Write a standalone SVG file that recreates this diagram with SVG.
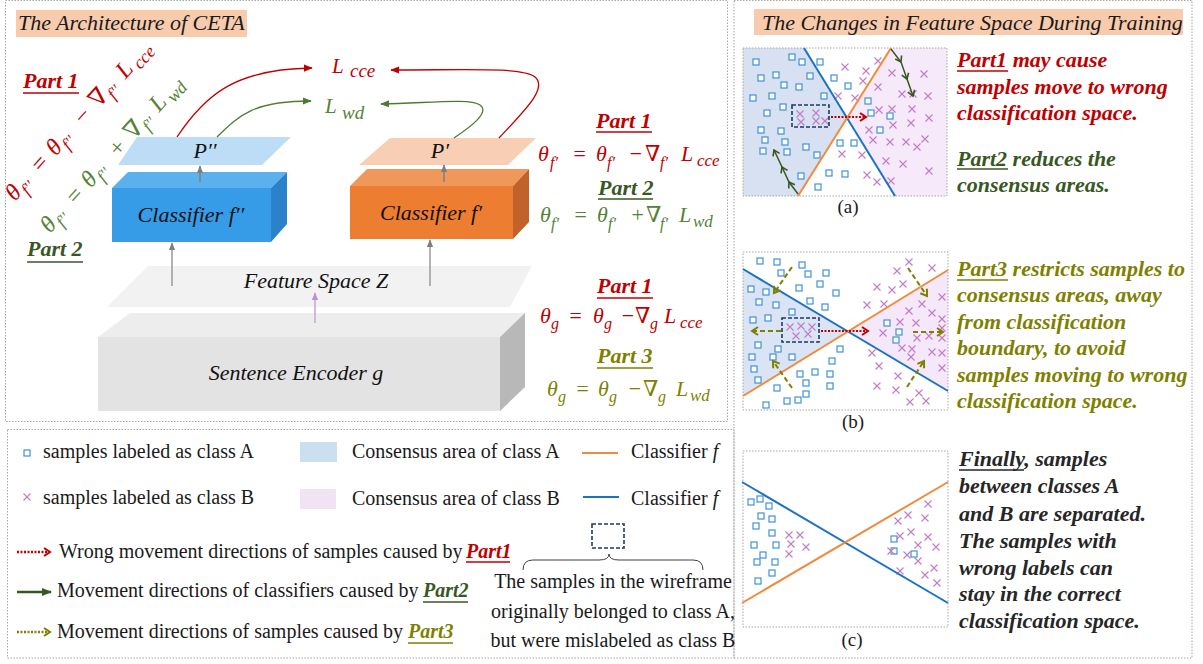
<svg xmlns="http://www.w3.org/2000/svg" width="1203" height="664" viewBox="0 0 1203 664">
<style>
text{font-family:"Liberation Serif","Times New Roman","DejaVu Serif",serif;}
.it{font-style:italic;}
.bi{font-style:italic;font-weight:bold;}
.ttl{font-size:22px;font-style:italic;fill:#1a1a1a;}
.lbl{font-size:22px;font-style:italic;fill:#111;}
.fm{font-size:22px;font-style:italic;}
.sb{font-size:16px;}
.part{font-size:22px;font-style:italic;font-weight:bold;}
.para{font-size:22px;font-style:italic;font-weight:bold;}
.leg{font-size:20px;fill:#1a1a1a;}
.cap{font-size:19px;fill:#1a1a1a;}
.red{fill:#C00000;}
.grn{fill:#548235;}
.dgrn{fill:#385723;}
.olv{fill:#7F7F00;}
.border{fill:none;stroke:#A6A6A6;stroke-width:1;stroke-dasharray:1.5 1.5;}
.ul{stroke-width:1.6;}
</style>
<defs>
<rect id="sq" x="-3" y="-3" width="6" height="6" fill="#fff" stroke="#3F92D8" stroke-width="1.2"/>
<path id="cx" d="M-3.5,-3.5L3.5,3.5M-3.5,3.5L3.5,-3.5" stroke="#C27BC6" stroke-width="1.1" fill="none"/>
<marker id="ahRed" viewBox="0 0 10 10" refX="9" refY="5" markerWidth="9" markerHeight="9" markerUnits="userSpaceOnUse" orient="auto"><path d="M0,1L10,5L0,9z" fill="#C00000"/></marker>
<marker id="ahGrn" viewBox="0 0 10 10" refX="9" refY="5" markerWidth="9" markerHeight="9" markerUnits="userSpaceOnUse" orient="auto"><path d="M0,1L10,5L0,9z" fill="#4E7A33"/></marker>
<marker id="ahGray" viewBox="0 0 10 10" refX="9" refY="5" markerWidth="8" markerHeight="8" markerUnits="userSpaceOnUse" orient="auto"><path d="M0,1L10,5L0,9z" fill="#7F7F7F"/></marker>
<marker id="ahPur" viewBox="0 0 10 10" refX="9" refY="5" markerWidth="8" markerHeight="8" markerUnits="userSpaceOnUse" orient="auto"><path d="M0,1L10,5L0,9z" fill="#B594D6"/></marker>
<marker id="ahDg" viewBox="0 0 10 10" refX="9" refY="5" markerWidth="10" markerHeight="10" markerUnits="userSpaceOnUse" orient="auto"><path d="M0,1L10,5L0,9z" fill="#385723"/></marker>
<marker id="chRed" viewBox="0 0 10 10" refX="8" refY="5" markerWidth="10" markerHeight="10" markerUnits="userSpaceOnUse" orient="auto"><path d="M2,1L8,5L2,9" fill="none" stroke="#C00000" stroke-width="2"/></marker>
<marker id="chOlv" viewBox="0 0 10 10" refX="8" refY="5" markerWidth="10" markerHeight="10" markerUnits="userSpaceOnUse" orient="auto"><path d="M2,1L8,5L2,9" fill="none" stroke="#7F7F00" stroke-width="2"/></marker>
<marker id="chGrn" viewBox="0 0 10 10" refX="8" refY="5" markerWidth="9" markerHeight="9" markerUnits="userSpaceOnUse" orient="auto"><path d="M2,1L8,5L2,9" fill="none" stroke="#385723" stroke-width="1.8"/></marker>
</defs>

<rect width="1203" height="664" fill="#fff"/>

<!-- panel borders -->
<rect class="border" x="5.5" y="0.5" width="722" height="421"/>
<rect class="border" x="7.5" y="429.5" width="726.5" height="228.5"/>
<rect class="border" x="734" y="0.5" width="458" height="657.5"/>

<!-- titles -->
<g id="title-left">
<rect x="16" y="10" width="231" height="27" fill="#F8CBAD"/>
<text class="ttl" x="18" y="30">The Architecture of CETA</text>
</g>
<g id="title-right">
<rect x="754" y="9" width="429" height="26" fill="#F8CBAD"/>
<text class="ttl" x="762" y="29.5">The Changes in Feature Space During Training</text>
</g>

<!-- encoder -->
<g id="encoder">
<polygon points="98,337 130,313 525,313 500,337" fill="#EDEDED"/>
<polygon points="500,337 525,313 525,387 500,411" fill="#B8B8B8"/>
<rect x="98" y="337" width="402" height="74" fill="#E3E3E3"/>
<text class="lbl" x="296" y="380" text-anchor="middle">Sentence Encoder g</text>
</g>

<g id="feature-space">
<polygon points="148,266 532,266 510,307 107,307" fill="#F2F2F2"/>
<text class="lbl" x="316" y="288" text-anchor="middle">Feature Space Z</text>
</g>

<g id="classifier-f2">
<polygon points="112,188 128,172 287,172 271,188" fill="#5BB0EE"/>
<polygon points="271,188 287,172 287,224 271,242" fill="#2B82C9"/>
<rect x="112" y="188" width="159" height="54" fill="#379CE8"/>
<text class="lbl" x="191" y="222" text-anchor="middle">Classifier f′′</text>
</g>

<g id="classifier-f1">
<polygon points="350,186 367,169 529,169 513,186" fill="#F0975A"/>
<polygon points="513,186 529,169 529,222 513,239" fill="#C0622A"/>
<rect x="350" y="186" width="163" height="53" fill="#ED7D31"/>
<text class="lbl" x="431" y="220" text-anchor="middle">Classifier f′</text>
</g>

<g id="p2">
<polygon points="137,137 291,137 262,165 118,165" fill="#BDDDF6"/>
<text class="lbl" x="205" y="158" text-anchor="middle">P′′</text>
</g>
<g id="p1">
<polygon points="390,138 536,138 508,165 359,165" fill="#F8CFB4"/>
<text class="lbl" x="440" y="158" text-anchor="middle">P′</text>
</g>

<g id="loss-cce">
<text class="red it" x="332" y="73" font-size="21">L</text>
<text class="red it" x="350" y="77" font-size="19">cce</text>
</g>
<g id="loss-wd">
<text class="grn it" x="325" y="113" font-size="21">L</text>
<text class="grn it" x="342" y="119" font-size="19">wd</text>
</g>

<!-- connectors -->
<g id="connectors" fill="none">
<path d="M177,137 C205,95 235,69 312,68" stroke="#C00000" stroke-width="1.3" marker-end="url(#ahRed)"/>
<path d="M499,138 C525,110 548,88 535,77 C522,67 470,70 391,70" stroke="#C00000" stroke-width="1.3" marker-end="url(#ahRed)"/>
<path d="M217,137 C240,114 255,101 311,101" stroke="#4E7A33" stroke-width="1.3" marker-end="url(#ahGrn)"/>
<path d="M454,138 C472,126 490,112 480,105 C470,98 430,103 381,104" stroke="#4E7A33" stroke-width="1.3" marker-end="url(#ahGrn)"/>
<line x1="200" y1="182" x2="200" y2="166" stroke="#7F7F7F" stroke-width="1.5" marker-end="url(#ahGray)"/>
<line x1="444" y1="182" x2="444" y2="165" stroke="#7F7F7F" stroke-width="1.5" marker-end="url(#ahGray)"/>
<line x1="172" y1="286" x2="172" y2="243" stroke="#9A9A9A" stroke-width="1.5" marker-end="url(#ahGray)"/>
<line x1="430" y1="286" x2="430" y2="240" stroke="#9A9A9A" stroke-width="1.5" marker-end="url(#ahGray)"/>
<line x1="315" y1="323" x2="315" y2="293" stroke="#C3A5DC" stroke-width="1.5" marker-end="url(#ahPur)"/>
</g>

<!-- left rotated formulas -->
<g id="left-formulas">
<text class="part red" x="23" y="88">Part 1</text>
<line class="ul" x1="23" y1="93" x2="79" y2="93" stroke="#C00000"/>
<text class="part dgrn" x="27" y="256">Part 2</text>
<line class="ul" x1="27" y1="262" x2="83" y2="262" stroke="#385723"/>
<g transform="translate(15,202) rotate(-48)">
<text class="red it" font-size="24"><tspan x="0" y="0">θ</tspan><tspan font-size="17" x="13" y="6">f′′</tspan><tspan x="37" y="0">=</tspan><tspan x="61" y="0">θ</tspan><tspan font-size="17" x="74" y="6">f′′</tspan><tspan x="101" y="0">−</tspan><tspan x="125" y="0">∇</tspan><tspan font-size="17" x="142" y="6">f′′</tspan><tspan x="165" y="0">L</tspan><tspan font-size="18" x="182" y="5">cce</tspan></text>
</g>
<g transform="translate(50,234) rotate(-48)">
<text class="grn it" font-size="24"><tspan x="0" y="0">θ</tspan><tspan font-size="17" x="13" y="6">f′′</tspan><tspan x="37" y="0">=</tspan><tspan x="61" y="0">θ</tspan><tspan font-size="17" x="74" y="6">f′′</tspan><tspan x="101" y="0">+</tspan><tspan x="125" y="0">∇</tspan><tspan font-size="17" x="142" y="6">f′′</tspan><tspan x="163" y="0">L</tspan><tspan font-size="18" x="180" y="5">wd</tspan></text>
</g>
</g>

<!-- right formulas -->
<g id="right-formulas">
<text class="part red" x="596" y="128">Part 1</text>
<line class="ul" x1="596" y1="132" x2="652" y2="132" stroke="#C00000"/>
<text class="fm red"><tspan x="538" y="161">θ</tspan><tspan class="sb" x="550" y="168">f′</tspan><tspan x="572" y="161">=</tspan><tspan x="596" y="161">θ</tspan><tspan class="sb" x="607" y="168">f′</tspan><tspan x="628" y="161">−</tspan><tspan x="645" y="161">∇</tspan><tspan class="sb" x="660" y="168">f′</tspan><tspan x="681" y="161">L</tspan><tspan font-size="17" x="697" y="166">cce</tspan></text>
<text class="part dgrn" x="598" y="195">Part 2</text>
<line class="ul" x1="598" y1="199" x2="653" y2="199" stroke="#385723"/>
<text class="fm grn"><tspan x="540" y="222">θ</tspan><tspan class="sb" x="551" y="229">f′</tspan><tspan x="573" y="222">=</tspan><tspan x="597" y="222">θ</tspan><tspan class="sb" x="608" y="229">f′</tspan><tspan x="630" y="222">+</tspan><tspan x="646" y="222">∇</tspan><tspan class="sb" x="660" y="229">f′</tspan><tspan x="679" y="222">L</tspan><tspan font-size="17" x="693" y="227">wd</tspan></text>
<text class="part red" x="597" y="293">Part 1</text>
<line class="ul" x1="597" y1="298" x2="653" y2="298" stroke="#C00000"/>
<text class="fm red"><tspan x="540" y="323">θ</tspan><tspan class="sb" x="551" y="329">g</tspan><tspan x="568" y="323">=</tspan><tspan x="593" y="323">θ</tspan><tspan class="sb" x="604" y="329">g</tspan><tspan x="620" y="323">−</tspan><tspan x="635" y="323">∇</tspan><tspan class="sb" x="650" y="329">g</tspan><tspan x="664" y="323">L</tspan><tspan font-size="17" x="680" y="328">cce</tspan></text>
<text class="part olv" x="597" y="363">Part 3</text>
<line class="ul" x1="597" y1="368" x2="653" y2="368" stroke="#7F7F00"/>
<text class="fm olv"><tspan x="547" y="396">θ</tspan><tspan class="sb" x="558" y="402">g</tspan><tspan x="575" y="396">=</tspan><tspan x="598" y="396">θ</tspan><tspan class="sb" x="609" y="402">g</tspan><tspan x="627" y="396">−</tspan><tspan x="643" y="396">∇</tspan><tspan class="sb" x="658" y="402">g</tspan><tspan x="676" y="396">L</tspan><tspan font-size="17" x="690" y="401">wd</tspan></text>
</g>

<!-- panel (a) -->
<g id="panel-a">
<polygon points="743,48 804,48 847,118 798,196 743,196" fill="#D7E1F1"/>
<polygon points="891,48 947,48 947,196 895,196 847,118" fill="#F5E9FA"/>
<rect class="border" x="743" y="48" width="204" height="148"/>
<g>
<use href="#sq" x="756" y="62"/><use href="#sq" x="792" y="57"/><use href="#sq" x="802" y="62"/><use href="#sq" x="820" y="62"/><use href="#sq" x="761" y="78"/><use href="#sq" x="776" y="75"/><use href="#sq" x="810" y="76"/><use href="#sq" x="784" y="85"/><use href="#sq" x="799" y="87"/><use href="#sq" x="834" y="78"/><use href="#sq" x="848" y="86"/><use href="#sq" x="753" y="98"/><use href="#sq" x="772" y="96"/><use href="#sq" x="824" y="96"/><use href="#sq" x="783" y="107"/><use href="#sq" x="767" y="113"/><use href="#sq" x="868" y="101"/><use href="#sq" x="871" y="113"/><use href="#sq" x="890" y="116"/><use href="#sq" x="761" y="130"/><use href="#sq" x="781" y="131"/><use href="#sq" x="765" y="140"/><use href="#sq" x="785" y="142"/><use href="#sq" x="880" y="130"/><use href="#sq" x="763" y="151"/><use href="#sq" x="787" y="152"/><use href="#sq" x="806" y="147"/><use href="#sq" x="817" y="155"/><use href="#sq" x="840" y="143"/><use href="#sq" x="854" y="143"/><use href="#sq" x="801" y="176"/><use href="#sq" x="829" y="173"/><use href="#sq" x="845" y="174"/><use href="#sq" x="818" y="187"/>
<use href="#cx" x="845" y="67"/><use href="#cx" x="866" y="71"/><use href="#cx" x="878" y="61"/><use href="#cx" x="892" y="73"/><use href="#cx" x="863" y="81"/><use href="#cx" x="924" y="74"/><use href="#cx" x="838" y="96"/><use href="#cx" x="855" y="98"/><use href="#cx" x="878" y="87"/><use href="#cx" x="902" y="94"/><use href="#cx" x="913" y="94"/><use href="#cx" x="928" y="96"/><use href="#cx" x="800" y="114"/><use href="#cx" x="816" y="113"/><use href="#cx" x="801" y="122"/><use href="#cx" x="816" y="121"/><use href="#cx" x="825" y="121"/><use href="#cx" x="879" y="110"/><use href="#cx" x="892" y="109"/><use href="#cx" x="912" y="109"/><use href="#cx" x="929" y="118"/><use href="#cx" x="893" y="125"/><use href="#cx" x="911" y="123"/><use href="#cx" x="869" y="130"/><use href="#cx" x="873" y="140"/><use href="#cx" x="890" y="142"/><use href="#cx" x="906" y="142"/><use href="#cx" x="917" y="147"/><use href="#cx" x="925" y="139"/><use href="#cx" x="842" y="154"/><use href="#cx" x="862" y="155"/><use href="#cx" x="886" y="161"/><use href="#cx" x="903" y="164"/><use href="#cx" x="929" y="171"/><use href="#cx" x="867" y="175"/><use href="#cx" x="877" y="182"/><use href="#cx" x="891" y="181"/>
</g>
<line x1="804" y1="48" x2="895" y2="196" stroke="#1B72C2" stroke-width="2"/>
<line x1="891" y1="48" x2="798" y2="196" stroke="#F08A3C" stroke-width="2"/>
<rect x="792" y="105" width="37" height="22" fill="none" stroke="#1F3864" stroke-width="1.6" stroke-dasharray="4 2"/>
<line x1="831" y1="117" x2="866" y2="117" stroke="#C00000" stroke-width="2" stroke-dasharray="2 1.5" marker-end="url(#chRed)"/>
<polyline points="891,49 901,62 907,79 913,96" fill="none" stroke="#385723" stroke-width="1.5" marker-mid="url(#chGrn)" marker-end="url(#chGrn)"/>
<polyline points="798,194 789,182 782,167 774,150" fill="none" stroke="#385723" stroke-width="1.5" marker-mid="url(#chGrn)" marker-end="url(#chGrn)"/>
<text class="cap" x="848" y="213" text-anchor="middle">(a)</text>
<text class="para red" x="957" y="67"><tspan>Part1</tspan> may cause</text>
<line class="ul" x1="957" y1="71" x2="1008" y2="71" stroke="#C00000"/>
<text class="para red" x="957" y="94">samples move to wrong</text>
<text class="para red" x="957" y="120">classification space.</text>
<text class="para dgrn" x="957" y="166">Part2 reduces the</text>
<line class="ul" x1="957" y1="169" x2="1008" y2="169" stroke="#385723"/>
<text class="para dgrn" x="957" y="192">consensus areas.</text>
</g>

<!-- panel (b) -->
<g id="panel-b">
<polygon points="743,269 847,331 743,396" fill="#DAE4F5"/>
<polygon points="948,270 847,331 948,391" fill="#F5E8FA"/>
<rect class="border" x="743" y="252" width="205" height="158"/>
<g>
<use href="#sq" x="760" y="261"/><use href="#sq" x="777" y="262"/><use href="#sq" x="802" y="265"/><use href="#sq" x="781" y="273"/><use href="#sq" x="808" y="274"/><use href="#sq" x="826" y="273"/><use href="#sq" x="751" y="289"/><use href="#sq" x="766" y="292"/><use href="#sq" x="799" y="288"/><use href="#sq" x="820" y="284"/><use href="#sq" x="836" y="293"/><use href="#sq" x="759" y="302"/><use href="#sq" x="776" y="305"/><use href="#sq" x="810" y="301"/><use href="#sq" x="825" y="307"/><use href="#sq" x="792" y="312"/><use href="#sq" x="753" y="320"/><use href="#sq" x="768" y="318"/><use href="#sq" x="758" y="345"/><use href="#sq" x="778" y="349"/><use href="#sq" x="752" y="357"/><use href="#sq" x="773" y="357"/><use href="#sq" x="792" y="357"/><use href="#sq" x="754" y="369"/><use href="#sq" x="758" y="380"/><use href="#sq" x="840" y="349"/><use href="#sq" x="832" y="361"/><use href="#sq" x="800" y="374"/><use href="#sq" x="815" y="372"/><use href="#sq" x="830" y="374"/><use href="#sq" x="806" y="383"/><use href="#sq" x="830" y="386"/><use href="#sq" x="777" y="388"/><use href="#sq" x="806" y="394"/><use href="#sq" x="798" y="400"/><use href="#sq" x="787" y="401"/><use href="#sq" x="766" y="405"/><use href="#sq" x="887" y="323"/><use href="#sq" x="899" y="332"/><use href="#sq" x="896" y="340"/>
<use href="#cx" x="909" y="262"/><use href="#cx" x="932" y="268"/><use href="#cx" x="897" y="271"/><use href="#cx" x="903" y="284"/><use href="#cx" x="892" y="290"/><use href="#cx" x="877" y="287"/><use href="#cx" x="867" y="305"/><use href="#cx" x="884" y="304"/><use href="#cx" x="922" y="304"/><use href="#cx" x="909" y="311"/><use href="#cx" x="932" y="313"/><use href="#cx" x="942" y="297"/><use href="#cx" x="942" y="319"/><use href="#cx" x="900" y="322"/><use href="#cx" x="916" y="323"/><use href="#cx" x="883" y="333"/><use href="#cx" x="929" y="336"/><use href="#cx" x="917" y="338"/><use href="#cx" x="942" y="328"/><use href="#cx" x="942" y="338"/><use href="#cx" x="902" y="348"/><use href="#cx" x="912" y="349"/><use href="#cx" x="932" y="352"/><use href="#cx" x="911" y="357"/><use href="#cx" x="942" y="353"/><use href="#cx" x="872" y="353"/><use href="#cx" x="879" y="366"/><use href="#cx" x="942" y="368"/><use href="#cx" x="898" y="376"/><use href="#cx" x="877" y="386"/><use href="#cx" x="896" y="390"/><use href="#cx" x="910" y="402"/><use href="#cx" x="919" y="393"/><use href="#cx" x="926" y="401"/><use href="#cx" x="790" y="327"/><use href="#cx" x="801" y="326"/><use href="#cx" x="812" y="327"/><use href="#cx" x="796" y="336"/><use href="#cx" x="808" y="334"/>
</g>
<line x1="743" y1="269" x2="948" y2="391" stroke="#1B72C2" stroke-width="2"/>
<line x1="743" y1="396" x2="948" y2="270" stroke="#F08A3C" stroke-width="2"/>
<rect x="782" y="318" width="37" height="24" fill="none" stroke="#1F3864" stroke-width="1.6" stroke-dasharray="4 2"/>
<line x1="821" y1="331" x2="868" y2="331" stroke="#C00000" stroke-width="2" stroke-dasharray="2 1.5" marker-end="url(#chRed)"/>
<g fill="none" stroke="#7F7F00" stroke-width="2" stroke-dasharray="5 3">
<line x1="781" y1="331" x2="752" y2="331" marker-end="url(#chOlv)"/>
<line x1="792" y1="267" x2="774" y2="293" marker-end="url(#chOlv)"/>
<line x1="792" y1="388" x2="773" y2="361" marker-end="url(#chOlv)"/>
<line x1="908" y1="268" x2="927" y2="296" marker-end="url(#chOlv)"/>
<line x1="913" y1="332" x2="943" y2="332" marker-end="url(#chOlv)"/>
<line x1="907" y1="387" x2="924" y2="361" marker-end="url(#chOlv)"/>
</g>
<text class="cap" x="853" y="428" text-anchor="middle">(b)</text>
<text class="para olv" x="957" y="276">Part3 restricts samples to</text>
<line class="ul" x1="957" y1="280" x2="1008" y2="280" stroke="#7F7F00"/>
<text class="para olv" x="957" y="302">consensus areas, away</text>
<text class="para olv" x="957" y="329">from classification</text>
<text class="para olv" x="957" y="355">boundary, to avoid</text>
<text class="para olv" x="957" y="382">samples moving to wrong</text>
<text class="para olv" x="957" y="408">classification space.</text>
</g>

<!-- panel (c) -->
<g id="panel-c">
<rect class="border" x="743" y="451" width="205" height="176"/>
<g>
<use href="#sq" x="751" y="502"/><use href="#sq" x="760" y="499"/><use href="#sq" x="769" y="506"/><use href="#sq" x="761" y="516"/><use href="#sq" x="772" y="519"/><use href="#sq" x="756" y="526"/><use href="#sq" x="772" y="533"/><use href="#sq" x="754" y="545"/><use href="#sq" x="776" y="545"/><use href="#sq" x="763" y="555"/><use href="#sq" x="757" y="562"/><use href="#sq" x="775" y="562"/><use href="#sq" x="772" y="573"/><use href="#sq" x="758" y="581"/><use href="#sq" x="894" y="539"/><use href="#sq" x="894" y="551"/><use href="#sq" x="914" y="554"/>
<use href="#cx" x="789" y="535"/><use href="#cx" x="800" y="535"/><use href="#cx" x="791" y="544"/><use href="#cx" x="806" y="547"/><use href="#cx" x="789" y="554"/><use href="#cx" x="928" y="504"/><use href="#cx" x="908" y="515"/><use href="#cx" x="898" y="521"/><use href="#cx" x="925" y="518"/><use href="#cx" x="900" y="536"/><use href="#cx" x="911" y="532"/><use href="#cx" x="928" y="537"/><use href="#cx" x="918" y="545"/><use href="#cx" x="936" y="547"/><use href="#cx" x="891" y="551"/><use href="#cx" x="907" y="555"/><use href="#cx" x="918" y="561"/><use href="#cx" x="934" y="568"/><use href="#cx" x="900" y="571"/><use href="#cx" x="925" y="575"/><use href="#cx" x="937" y="583"/>
</g>
<line x1="742" y1="482" x2="948" y2="603" stroke="#1B72C2" stroke-width="2"/>
<line x1="742" y1="603" x2="948" y2="482" stroke="#F08A3C" stroke-width="2"/>
<text class="cap" x="852" y="646" text-anchor="middle">(c)</text>
<g fill="#262626">
<text class="para" x="959" y="466">Finally, samples</text>
<text class="para" x="959" y="493">between classes A</text>
<text class="para" x="959" y="521">and B are separated.</text>
<text class="para" x="959" y="548">The samples with</text>
<text class="para" x="959" y="575">wrong labels can</text>
<text class="para" x="959" y="601">stay in the correct</text>
<text class="para" x="959" y="628">classification space.</text>
</g>
<line class="ul" x1="959" y1="470" x2="1024" y2="470" stroke="#262626"/>
</g>

<!-- legend -->
<g id="legend">
<use href="#sq" x="27" y="453"/>
<text class="leg" x="43" y="458">samples labeled as class A</text>
<use href="#cx" x="27" y="497"/>
<text class="leg" x="43" y="504">samples labeled as class B</text>
<rect x="300" y="442" width="37" height="20" fill="#CADFF0"/>
<text class="leg" x="352" y="458">Consensus area of class A</text>
<rect x="300" y="489" width="36" height="20" fill="#EFE3F4"/>
<text class="leg" x="352" y="505">Consensus area of class B</text>
<line x1="582" y1="453" x2="618" y2="453" stroke="#F08A3C" stroke-width="2"/>
<text class="leg" x="631" y="458">Classifier <tspan class="it">f</tspan></text>
<line x1="583" y1="497" x2="619" y2="497" stroke="#1B72C2" stroke-width="2"/>
<text class="leg" x="631" y="505">Classifier <tspan class="it">f</tspan></text>
<line x1="17" y1="552" x2="50" y2="552" stroke="#C00000" stroke-width="2.5" stroke-dasharray="2 1.5" marker-end="url(#chRed)"/>
<text class="leg" x="59" y="558">Wrong movement directions of samples caused by <tspan class="bi red" x="466">Part1</tspan></text>
<line class="ul" x1="466" y1="562" x2="510" y2="562" stroke="#C00000" stroke-width="2"/>
<line x1="17" y1="592" x2="51" y2="592" stroke="#385723" stroke-width="2.5" marker-end="url(#ahDg)"/>
<text class="leg" x="57" y="597">Movement directions of classifiers caused by <tspan class="bi dgrn" x="423">Part2</tspan></text>
<line class="ul" x1="423" y1="602" x2="468" y2="602" stroke="#385723" stroke-width="2"/>
<line x1="17" y1="632" x2="50" y2="632" stroke="#7F7F00" stroke-width="2.5" stroke-dasharray="2 1.5" marker-end="url(#chOlv)"/>
<text class="leg" x="57" y="638">Movement directions of samples caused by <tspan class="bi olv" x="408">Part3</tspan></text>
<line class="ul" x1="408" y1="643" x2="453" y2="643" stroke="#7F7F00" stroke-width="2"/>
<rect x="592" y="524" width="32" height="24" fill="none" stroke="#1F3864" stroke-width="1.6" stroke-dasharray="4 2"/>
<path d="M523,570 Q523,560 533,560 L599,560 Q609,560 609,554 Q609,560 619,560 L693,560 Q703,560 703,570" fill="none" stroke="#404040" stroke-width="1"/>
<text class="leg" x="613" y="588" text-anchor="middle">The samples in the wireframe</text>
<text class="leg" x="613" y="618" text-anchor="middle">originally belonged to class A,</text>
<text class="leg" x="613" y="647" text-anchor="middle">but were mislabeled as class B</text>
</g>
</svg>
